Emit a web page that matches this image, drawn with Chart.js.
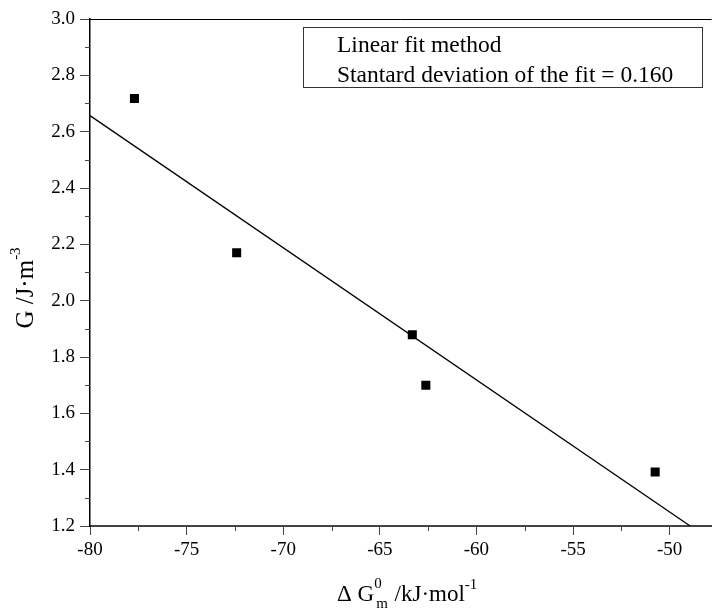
<!DOCTYPE html>
<html lang="en">
<head>
    <script src="https://cdn.jsdelivr.net/npm/chart.js@4.4.1/dist/chart.umd.min.js"></script>
    <title>G vs dG</title>
    <style>
        html, body { margin: 0; padding: 0; background: #fff; overflow: hidden; }
        #wrap { width: 718px; height: 609px; }
    </style>
</head>
<body>
<div id="wrap"><canvas id="myChart"></canvas></div>
<script>
    // measured points
    const xValues = [-77.70, -72.41, -63.32, -62.62, -50.75];
    const yValues = [2.718, 2.170, 1.879, 1.700, 1.392];
    // fitted line end points
    const fitX = [-80, -48.94];
    const fitY = [2.657, 1.2];
    const legendLines = ["Linear fit method", "Stantard deviation of the fit = 0.160"];

    const serif = "'Liberation Serif', 'Times New Roman', serif";

    const points = xValues.map((x, i) => ({x: x, y: yValues[i]}));
    const fitLine = fitX.map((x, i) => ({x: x, y: fitY[i]}));

    // write a run of text pieces (normal / super / sub) starting at x
    function drawRich(ctx, parts, x, base) {
        parts.forEach(p => {
            ctx.font = p.f;
            ctx.fillText(p.t, x, base + p.dy);
            if (p.sub) { ctx.fillText(p.sub, x + 2, base + p.sdy); }
            x += p.w;
        });
    }
    function richWidth(ctx, parts) {
        let total = 0;
        parts.forEach(p => {
            ctx.font = p.f;
            let w = ctx.measureText(p.t).width;
            if (p.sub) { w = Math.max(w, ctx.measureText(p.sub).width) + 3; }
            p.w = w;
            total += w;
        });
        return total;
    }

    // minor ticks, frame top line, legend box and axis titles
    const extras = {
        id: "extras",
        afterDraw(chart) {
            const ctx = chart.ctx;
            const a = chart.chartArea;
            const xs = chart.scales.x, ys = chart.scales.y;
            ctx.save();

            // top line
            ctx.strokeStyle = "#000";
            ctx.lineWidth = 1;
            ctx.beginPath();
            ctx.moveTo(a.left, a.top + 0.5);
            ctx.lineTo(a.right, a.top + 0.5);
            ctx.stroke();

            // minor ticks
            ctx.strokeStyle = "#444";
            ctx.lineWidth = 1;
            ctx.beginPath();
            for (let v = -77.5; v < xs.max; v += 5) {
                const px = Math.round(xs.getPixelForValue(v)) + 0.5;
                ctx.moveTo(px, a.bottom);
                ctx.lineTo(px, a.bottom + 5);
            }
            for (let v = 1.3; v < 3.0; v += 0.2) {
                const py = Math.round(ys.getPixelForValue(v)) + 0.5;
                ctx.moveTo(a.left, py);
                ctx.lineTo(a.left - 5, py);
            }
            ctx.stroke();

            // legend box
            ctx.strokeStyle = "#333";
            ctx.lineWidth = 1;
            ctx.strokeRect(303.5, 27.5, 399, 60);
            ctx.fillStyle = "#000";
            ctx.font = "23.5px " + serif;
            ctx.textBaseline = "alphabetic";
            ctx.textAlign = "left";
            legendLines.forEach((t, i) => ctx.fillText(t, 337, 52 + i * 30));

            // x title: Δ G^0_m /kJ·mol^-1
            const big = "23px " + serif, small = "15px " + serif;
            const xparts = [
                {t: "\u0394 G", f: big, dy: 0},
                {t: "0", f: small, dy: -13, sub: "m", sdy: 7},
                {t: " /kJ\u00b7mol", f: big, dy: 0},
                {t: "-1", f: small, dy: -12}
            ];
            richWidth(ctx, xparts);
            drawRich(ctx, xparts, 337, 601);

            // y title: G /J·m^-3
            ctx.translate(33, 288);
            ctx.rotate(-Math.PI / 2);
            const yparts = [
                {t: "G /J\u00b7m", f: "25px " + serif, dy: 0},
                {t: "-3", f: small, dy: -13}
            ];
            const yt = richWidth(ctx, yparts);
            drawRich(ctx, yparts, -yt / 2, 0);
            ctx.restore();
        }
    };

    const chart = new Chart("myChart", {
        type: "scatter",
        data: {
            datasets: [
                {
                    label: "data",
                    data: points,
                    pointStyle: "rect",
                    pointRadius: 6.4,
                    pointBorderWidth: 0,
                    backgroundColor: "#000",
                    borderColor: "#000"
                },
                {
                    type: "line",
                    label: "fit",
                    data: fitLine,
                    borderColor: "#000",
                    borderWidth: 1.3,
                    pointRadius: 0,
                    fill: false
                }
            ]
        },
        options: {
            responsive: true,
            maintainAspectRatio: false,
            animation: false,
            layout: {padding: {top: 19, right: 0, left: 0, bottom: 0}},
            plugins: {
                legend: {display: false},
                tooltip: {enabled: false}
            },
            scales: {
                x: {
                    type: "linear",
                    min: -80,
                    max: -47.83,
                    afterFit: s => { s.height = 83; },
                    border: {display: true, color: "#444", width: 2},
                    grid: {drawOnChartArea: false, tickLength: 9, tickColor: "#444", tickWidth: 1},
                    ticks: {
                        stepSize: 5,
                        includeBounds: false,
                        maxRotation: 0,
                        padding: 4,
                        color: "#000",
                        font: {family: serif, size: 19}
                    }
                },
                y: {
                    min: 1.2,
                    max: 3.0,
                    afterFit: s => { s.width = 90; },
                    border: {display: true, color: "#000", width: 1.5},
                    grid: {drawOnChartArea: false, tickLength: 10, tickColor: "#444", tickWidth: 1},
                    ticks: {
                        stepSize: 0.2,
                        padding: 5,
                        color: "#000",
                        font: {family: serif, size: 19},
                        callback: v => v.toFixed(1)
                    }
                }
            }
        },
        plugins: [extras]
    });
</script>
</body>
</html>
